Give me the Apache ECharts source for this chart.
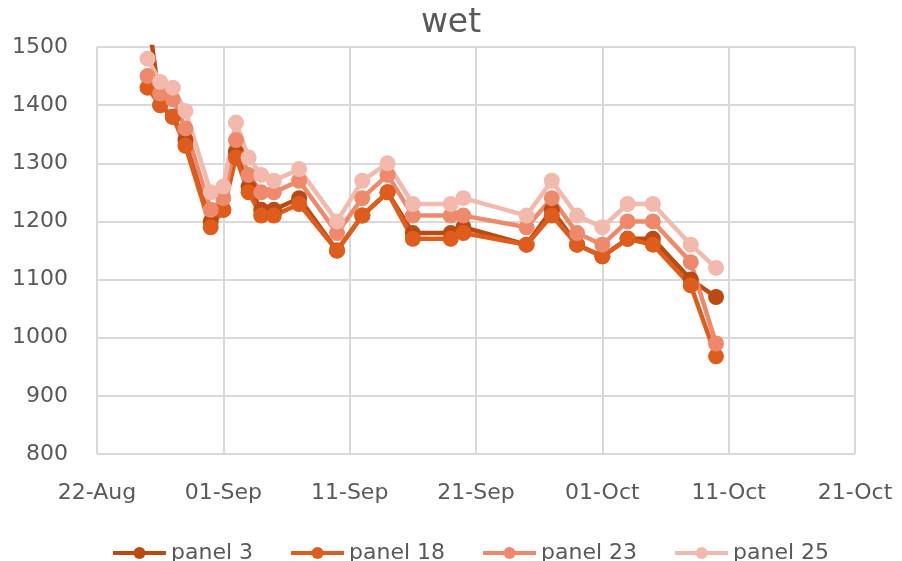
<!DOCTYPE html>
<html>
<head>
<meta charset="utf-8">
<title>wet</title>
<script src="https://cdn.jsdelivr.net/npm/echarts@6/dist/echarts.min.js"></script>
<style>
  html, body { margin: 0; padding: 0; background: #fff; }
  #chart { width: 902px; height: 561px; }
</style>
</head>
<body>
<div id="chart"></div>
<script>
// Measurement dates (month-day) and panel readings
const dates = ['08-26','08-27','08-28','08-29','08-31','09-01','09-02','09-03','09-04','09-05',
               '09-07','09-10','09-12','09-14','09-16','09-19','09-20','09-25','09-27','09-29',
               '10-01','10-03','10-05','10-08','10-10'];
const panel3  = [1560,1400,1380,1340,1200,1220,1320,1260,1220,1220,1240,1150,1210,1250,1180,1180,1190,1160,1220,1160,1140,1170,1170,1100,1070];
const panel18 = [1430,1400,1380,1330,1190,1220,1310,1250,1210,1210,1230,1150,1210,1250,1170,1170,1180,1160,1210,1160,1140,1170,1160,1090,968];
const panel23 = [1450,1420,1410,1360,1220,1240,1340,1280,1250,1250,1270,1180,1240,1280,1210,1210,1210,1190,1240,1180,1160,1200,1200,1130,990];
const panel25 = [1480,1440,1430,1390,1250,1260,1370,1310,1280,1270,1290,1200,1270,1300,1230,1230,1240,1210,1270,1210,1190,1230,1230,1160,1120];
const seriesNames = ['panel 3', 'panel 18', 'panel 23', 'panel 25'];
const yTicks = [800, 900, 1000, 1100, 1200, 1300, 1400, 1500];
const xStart = '08-22';   // first x tick
const xEnd = '10-21';     // last x tick
const monthNames = ['Jan','Feb','Mar','Apr','May','Jun','Jul','Aug','Sep','Oct','Nov','Dec'];

const YEAR = 2023;
const DAY = 86400000;
function toTime(md) {
  const [m, d] = md.split('-').map(Number);
  return Date.UTC(YEAR, m - 1, d);
}
const t0 = toTime(xStart);
// x values are days after the first tick
function dayOffset(md) { return Math.round((toTime(md) - t0) / DAY); }
function dayLabel(v) {
  const dt = new Date(t0 + v * DAY);
  const d = String(dt.getUTCDate()).padStart(2, '0');
  return d + '-' + monthNames[dt.getUTCMonth()];
}

const colors = ['#BB4A12', '#DE5D1C', '#EE8A6B', '#F4B9AD'];
const values = [panel3, panel18, panel23, panel25];
const textColor = '#595959';
const font = 'DejaVu Sans';

const chart = echarts.init(document.getElementById('chart'), null, { renderer: 'canvas' });
chart.setOption({
  animation: false,
  color: colors,
  title: {
    text: 'wet',
    left: 'center',
    top: 2,
    textStyle: { fontFamily: font, fontSize: 33, fontWeight: 'normal', color: textColor }
  },
  legend: {
    data: seriesNames,
    top: 537,
    left: 106,
    itemWidth: 53,
    itemHeight: 15,
    itemGap: 36,
    lineStyle: { width: 4 },
    textStyle: { fontFamily: font, fontSize: 22, color: textColor }
  },
  grid: { left: 97, right: 47, top: 47, bottom: 107, containLabel: false },
  xAxis: {
    type: 'value',
    min: 0,
    max: dayOffset(xEnd),
    interval: 10,
    axisLine: { show: false },
    axisTick: { show: false },
    splitLine: { show: true, lineStyle: { color: '#d9d9d9', width: 2 } },
    axisLabel: {
      margin: 28,
      fontFamily: font, fontSize: 22, color: textColor,
      formatter: dayLabel
    }
  },
  yAxis: {
    type: 'value',
    min: yTicks[0],
    max: yTicks[yTicks.length - 1],
    interval: yTicks[1] - yTicks[0],
    axisLine: { show: false },
    axisTick: { show: false },
    splitLine: { show: true, lineStyle: { color: '#d9d9d9', width: 2 } },
    axisLabel: {
      margin: 29, fontFamily: font, fontSize: 22, color: textColor,
      formatter: v => String(v)
    }
  },
  series: seriesNames.map((name, i) => ({
    name: name,
    type: 'line',
    clip: true,
    symbol: 'circle',
    symbolSize: 16,
    lineStyle: { width: 4.5, color: colors[i] },
    itemStyle: { color: colors[i] },
    data: dates.map((d, k) => [dayOffset(d), values[i][k]])
  }))
});
</script>
</body>
</html>
